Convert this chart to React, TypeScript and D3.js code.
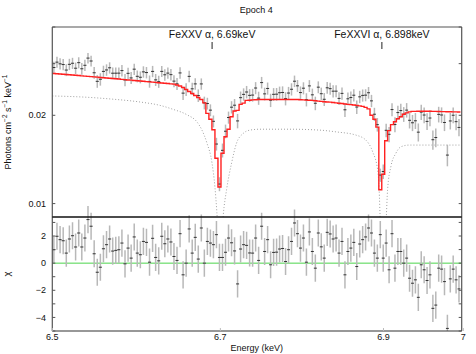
import React from "react";
import * as d3 from "d3";

const W = 476;
const H = 354;
const TITLE = "Epoch 4";
const X_LABEL = "Energy (keV)";

// Energy bins (keV): start and width of each spectral bin
const BIN_START = 6.5;
const BIN_WIDTH = 0.00365;

// Model (red step line), photons cm^-2 s^-1 keV^-1, in units of 1e-3
const MODEL = [
  27.78, 27.72, 27.66, 27.6, 27.55, 27.49, 27.43, 27.38, 27.32, 27.26,
  27.2, 27.15, 27.09, 27.03, 26.98, 26.92, 26.86, 26.8, 26.75, 26.69,
  26.63, 26.58, 26.52, 26.46, 26.4, 26.35, 26.29, 26.23, 26.18, 26.12,
  26.06, 26.0, 25.95, 25.89, 25.83, 25.78, 25.72, 25.66, 25.6, 25.55,
  25.36, 25.16, 24.87, 24.49, 24.11, 23.74, 23.37, 23.01, 22.65, 22.05,
  20.31, 19.39, 17.86, 14.28, 11.39, 14.84, 16.89, 17.93, 19.77, 20.68,
  20.79, 21.79, 22.01, 22.48, 22.51, 22.57, 22.6, 22.65, 22.65, 22.65,
  22.65, 22.65, 22.65, 22.65, 22.65, 22.65, 22.65, 22.65, 22.65, 22.65,
  22.65, 22.6, 22.57, 22.53, 22.5, 22.48, 22.41, 22.36, 22.3, 22.25,
  22.2, 22.17, 22.12, 22.05, 21.99, 21.93, 21.86, 21.79, 21.74, 21.69,
  21.62, 21.54, 21.45, 21.29, 21.04, 20.0, 19.39, 18.22, 11.15, 12.59,
  16.37, 17.73, 18.58, 19.01, 19.46, 19.77, 20.16, 20.39, 20.55, 20.63,
  20.63, 20.64, 20.65, 20.65, 20.65, 20.64, 20.63, 20.62, 20.6, 20.59,
  20.58, 20.57, 20.56, 20.55, 20.54, 20.52,
];

// Residuals (chi) per bin
const CHI = [
  0.99, 1.98, 1.73, 1.65, 0.74, 1.78, 2.02, 1.19, 2.22, 1.19,
  1.85, 3.21, 2.72, 0.69, -0.67, -0.3, 1.06, 1.36, 1.78, 0.89,
  0.94, 0.99, 1.48, -0.05, 1.11, 0.37, 1.93, 0.74, 0.62, 1.6,
  1.53, 0.07, 1.83, 0.42, 0.17, 1.98, 1.43, 1.78, 1.56, 0.49,
  0.2, 2.17, -0.86, 0.0, 2.52, 0.74, 1.9, 0.3, 2.59, 0.0,
  1.6, 1.48, 1.36, 2.1, 0.42, 0.42, 0.8, 1.85, 1.5, 0.9,
  -1.53, 1.04, 1.36, 1.31, 0.75, 0.74, 1.85, 0.2, 2.72, 0.86,
  1.73, -0.12, 0.79, 0.81, 1.04, 1.08, 0.12, 0.99, 1.6, 2.96,
  2.17, 1.11, 1.85, 0.07, 2.3, 0.86, -0.37, 2.22, 1.2, 0.37,
  2.27, 2.15, 1.78, 1.85, 0.74, 1.6, -0.86, 0.86, 1.11, 1.53,
  -0.25, 1.41, 1.73, 1.93, 2.59, 2.22, 0.74, 0.37, 2.1, 0.37,
  1.48, -0.49, 2.17, -0.37, 0.86, 0.86, 0.0, 0.37, -1.11, -1.48,
  -1.23, -2.52, -0.12, -0.49, -1.28, -0.86, -3.33, -3.09, -0.37, -0.44,
  -1.36, -4.81, -1.16, -0.44, -1.23, -1.9,
];

// 1-sigma error of each bin, percent of the model flux
const REL_ERR_PCT = [
  4.8, 4.8, 4.8, 4.8, 4.8, 4.8, 4.8, 4.8, 4.8, 4.8,
  4.8, 4.8, 4.8, 4.8, 4.8, 4.8, 4.8, 4.8, 4.8, 4.8,
  4.8, 4.8, 4.8, 4.8, 4.8, 4.8, 4.8, 4.8, 4.8, 4.8,
  4.8, 4.8, 4.8, 4.8, 4.8, 4.8, 4.8, 4.8, 4.8, 4.8,
  4.8, 5.0, 5.0, 5.0, 5.0, 5.0, 5.0, 5.0, 5.0, 5.0,
  5.0, 5.0, 5.0, 5.6, 5.6, 5.6, 5.6, 5.2, 5.2, 5.2,
  5.2, 5.2, 5.2, 5.2, 5.2, 5.2, 5.2, 5.2, 5.2, 5.2,
  5.2, 5.2, 5.2, 5.2, 5.2, 5.2, 5.2, 5.2, 5.2, 5.2,
  5.2, 5.2, 5.2, 5.2, 5.2, 5.2, 5.2, 5.2, 5.2, 5.2,
  5.2, 5.2, 5.2, 5.2, 5.2, 5.2, 5.2, 5.2, 5.2, 5.2,
  5.2, 5.2, 5.2, 5.2, 5.2, 5.4, 5.4, 5.4, 5.8, 5.8,
  5.8, 5.8, 5.8, 5.8, 5.8, 5.8, 5.8, 5.8, 5.8, 5.8,
  5.8, 6.0, 6.0, 6.0, 6.0, 6.0, 6.0, 6.0, 6.0, 6.0,
  6.0, 6.0, 6.0, 6.0, 6.0, 6.0,
];

// Dotted model component (energy keV, flux 1e-3)
const DOT_E = [
  6.5, 6.5443, 6.568, 6.6036, 6.6274, 6.643, 6.6598, 6.6718, 6.6778, 6.6838,
  6.6899, 6.6934, 6.6958, 6.6995, 6.7034, 6.7075, 6.7136, 6.7196, 6.7276, 6.7357,
  6.7479, 6.7846, 6.8214, 6.8411, 6.8658, 6.8781, 6.8865, 6.8927, 6.8946, 6.8958,
  6.8997, 6.9035, 6.9051, 6.9092, 6.9154, 6.9217, 6.932, 6.9944, 6.998,
];
const DOT_F = [
  23.28, 23.01, 22.74, 22.2, 21.62, 20.96, 20.08, 18.98, 17.8, 16.08,
  13.76, 11.41, 9.32, 6.0, 9.06, 11.15, 13.76, 16.08, 17.34, 17.8,
  17.93, 17.93, 17.8, 17.56, 17.12, 16.46, 15.03, 13.03, 11.15, 9.0,
  5.5, 9.0, 11.15, 13.37, 14.84, 15.62, 15.83, 15.83, 15.83,
];

const LINE_LABELS = ["FeXXV α, 6.69keV", "FeXXVI α, 6.898keV"];
const LINE_ENERGIES = [6.69, 6.898];

const X_TICKS = [6.5, 6.7, 6.9, 7];
const X_TICK_LABELS = ["6.5", "6.7", "6.9", "7"];
const Y_TICKS = [0.01, 0.02, 0.03, 0.04];
const Y_TICK_LABELS = [0.01, 0.02];
const CHI_TICKS = [-5, -4, -3, -2, -1, 0, 1, 2, 3];
const CHI_TICK_LABELS = [-4, -2, 0, 2];

const FONT = "'Liberation Sans', Arial, Helvetica, sans-serif";

export default function App() {
  const left = 52.3;
  const right = 461.7;
  const top = 27;
  const mid = 217;
  const bottom = 331;

  const x = d3.scaleLog().domain([6.5, 6.998]).range([left, right]);
  const yU = d3.scaleLog().domain([0.009, 0.04]).range([mid, top]);
  const yL = d3.scaleLinear().domain([-5.0, 3.4]).range([bottom, mid]);

  const bins = MODEL.map((m, i) => {
    const lo = BIN_START + i * BIN_WIDTH;
    const hi = lo + BIN_WIDTH;
    const model = m * 1e-3;
    const sigma = (model * REL_ERR_PCT[i]) / 100;
    const data = model + CHI[i] * sigma;
    return { lo, hi, c: (lo + hi) / 2, model, sigma, data, chi: CHI[i] };
  });

  const stepPts: [number, number][] = bins.flatMap((b) => [
    [b.lo, b.model] as [number, number],
    [b.hi, b.model] as [number, number],
  ]);
  const modelPath =
    d3
      .line<[number, number]>()
      .x((d) => x(d[0]))
      .y((d) => yU(d[1]))(stepPts) || "";

  const dotPts: [number, number][] = DOT_E.map((e, i) => [e, DOT_F[i] * 1e-3]);
  const dotPath =
    d3
      .line<[number, number]>()
      .curve(d3.curveMonotoneX)
      .x((d) => x(d[0]))
      .y((d) => yU(d[1]))(dotPts) || "";

  const fmt = d3.format(".2f");
  const chiFmt = (v: number) => (v < 0 ? "\u2212" + Math.abs(v) : String(v));

  return (
    <svg
      width={W}
      height={H}
      style={{ position: "absolute", left: 0, top: 0, display: "block", background: "#fff" }}
      fontFamily={FONT}
    >
      <defs>
        <clipPath id="clipUpper">
          <rect x={left} y={top} width={right - left} height={mid - top} />
        </clipPath>
        <clipPath id="clipLower">
          <rect x={left} y={0} width={right - left} height={bottom} />
        </clipPath>
      </defs>
      <rect x={0} y={0} width={W} height={H} fill="#fff" />

      <text x={256.3} y={13} fontSize={9} textAnchor="middle" fill="#111">
        {TITLE}
      </text>

      {LINE_ENERGIES.map((e, i) => (
        <g key={"ann" + i}>
          <text x={x(e)} y={38} fontSize={10.5} textAnchor="middle" fill="#111">
            {LINE_LABELS[i]}
          </text>
          <line x1={x(e)} x2={x(e)} y1={42} y2={49} stroke="#222" strokeWidth={1} />
        </g>
      ))}

      <path
        d={dotPath}
        fill="none"
        stroke="#a0a0a0"
        strokeWidth={1}
        strokeDasharray="1,2"
        clipPath="url(#clipUpper)"
      />

      {bins.map((b, i) => (
        <g key={"u" + i}>
          <line
            x1={x(b.c)}
            x2={x(b.c)}
            y1={yU(b.data - b.sigma)}
            y2={yU(b.data + b.sigma)}
            stroke="#b8b8b8"
            strokeWidth={1.5}
          />
          <line x1={x(b.lo)} x2={x(b.hi)} y1={yU(b.data)} y2={yU(b.data)} stroke="#333" strokeWidth={1} />
        </g>
      ))}

      <path d={modelPath} fill="none" stroke="#ff2020" strokeWidth={1.4} />

      <line x1={left} x2={right} y1={yL(0)} y2={yL(0)} stroke="#4cd64c" strokeWidth={1} />
      <g clipPath="url(#clipLower)">
        {bins.map((b, i) => (
          <g key={"l" + i}>
            <line
              x1={x(b.c)}
              x2={x(b.c)}
              y1={yL(b.chi - 1)}
              y2={yL(b.chi + 1)}
              stroke="#b8b8b8"
              strokeWidth={1.5}
            />
            <line x1={x(b.lo)} x2={x(b.hi)} y1={yL(b.chi)} y2={yL(b.chi)} stroke="#333" strokeWidth={1} />
          </g>
        ))}
      </g>

      <line x1={left} x2={left} y1={top} y2={bottom} stroke="#555" strokeWidth={1.2} />
      <line x1={right} x2={right} y1={top} y2={bottom} stroke="#555" strokeWidth={1.2} />
      <line x1={left} x2={right} y1={top} y2={top} stroke="#555" strokeWidth={1.2} />
      <line x1={left} x2={right} y1={bottom} y2={bottom} stroke="#333" strokeWidth={1.2} />
      <line x1={left} x2={right} y1={mid} y2={mid} stroke="#111" strokeWidth={1.5} />

      {Y_TICKS.map((t) => (
        <g key={"yt" + t}>
          <line x1={left} x2={left + 3} y1={yU(t)} y2={yU(t)} stroke="#555" />
          <line x1={right - 3} x2={right} y1={yU(t)} y2={yU(t)} stroke="#555" />
        </g>
      ))}
      {Y_TICK_LABELS.map((t) => (
        <text key={"yl" + t} x={46} y={yU(t)} dy="0.35em" fontSize={9} textAnchor="end" fill="#111">
          {fmt(t)}
        </text>
      ))}

      {CHI_TICKS.map((t) => (
        <g key={"ct" + t}>
          <line x1={left} x2={left + 3} y1={yL(t)} y2={yL(t)} stroke="#555" />
          <line x1={right - 3} x2={right} y1={yL(t)} y2={yL(t)} stroke="#555" />
        </g>
      ))}
      {CHI_TICK_LABELS.map((t) => (
        <text key={"cl" + t} x={46} y={yL(t)} dy="0.35em" fontSize={9} textAnchor="end" fill="#111">
          {chiFmt(t)}
        </text>
      ))}

      {X_TICKS.map((t, i) => (
        <g key={"xt" + t}>
          <line x1={x(t)} x2={x(t)} y1={bottom} y2={bottom - 3} stroke="#bbb" />
          <text x={x(t)} y={340} fontSize={9} textAnchor="middle" fill="#111">
            {X_TICK_LABELS[i]}
          </text>
        </g>
      ))}

      <text x={256.7} y={351} fontSize={9} textAnchor="middle" fill="#111">
        {X_LABEL}
      </text>
      <text transform="translate(10.5,122) rotate(-90)" fontSize={9} textAnchor="middle" fill="#111">
        Photons cm
        <tspan dy={-3.5} fontSize={6.5}>
          −2
        </tspan>
        <tspan dy={3.5}> s</tspan>
        <tspan dy={-3.5} fontSize={6.5}>
          −1
        </tspan>
        <tspan dy={3.5}> keV</tspan>
        <tspan dy={-3.5} fontSize={6.5}>
          −1
        </tspan>
      </text>
      <text transform="translate(10,274) rotate(-90)" fontSize={9.5} textAnchor="middle" fill="#111">
        χ
      </text>
    </svg>
  );
}
